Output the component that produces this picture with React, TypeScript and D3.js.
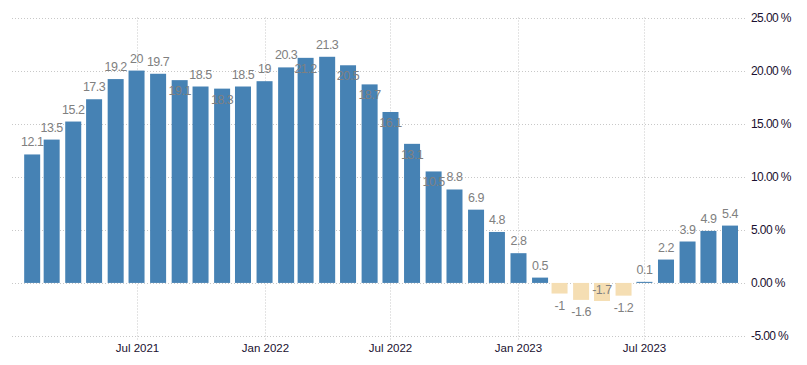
import { useEffect, useRef } from "react";
import * as d3 from "d3";

// Monthly YoY values, Feb 2021 .. Nov 2023
const firstMonth = { year: 2021, month: 1 };
const values = [
  12.1, 13.5, 15.2, 17.3, 19.2, 20, 19.7, 19.1, 18.5, 18.3, 18.5, 19,
  20.3, 21.2, 21.3, 20.5, 18.7, 16.1, 13.1, 10.5, 8.8, 6.9, 4.8, 2.8,
  0.5, -1, -1.6, -1.7, -1.2, 0.1, 2.2, 3.9, 4.9, 5.4,
];
const xTicks = ["2021-07-01", "2022-01-01", "2022-07-01", "2023-01-01", "2023-07-01"];
const xTickLabels = ["Jul 2021", "Jan 2022", "Jul 2022", "Jan 2023", "Jul 2023"];
const yTicks = [-5, 0, 5, 10, 15, 20, 25];

const WIDTH = 807;
const HEIGHT = 365;
const PLOT = { left: 12, right: 746, top: 17.5, bottom: 336 };
const BAR_W = 16;
const POS_COLOR = "#4682b4";
const NEG_COLOR = "#f5deb3";
const FONT = "'Liberation Sans', Arial, sans-serif";

// rough label width for overlap checks (narrow ui font)
function labelWidth(s: string): number {
  let w = 0;
  for (const ch of s) w += ch === "." ? 2.9 : ch === "-" ? 3.5 : 5.9;
  return w + 3;
}

export default function App() {
  const svgRef = useRef<SVGSVGElement>(null);

  useEffect(() => {
    const svg = d3.select(svgRef.current);
    svg.selectAll("*").remove();

    const dates = values.map((_, i) =>
      d3.utcMonth.offset(new Date(Date.UTC(firstMonth.year, firstMonth.month, 1)), i)
    );

    const x = d3.scaleUtc()
      .domain([new Date(Date.UTC(2021, 0, 3)), new Date(Date.UTC(2023, 10, 24))])
      .range([PLOT.left, PLOT.right]);

    const y = d3.scaleLinear()
      .domain([-5, 25])
      .range([PLOT.bottom, PLOT.top]);

    svg.append("rect")
      .attr("width", WIDTH)
      .attr("height", HEIGHT)
      .attr("fill", "#ffffff");

    // horizontal grid
    yTicks.forEach((t) => {
      svg.append("line")
        .attr("x1", PLOT.left)
        .attr("x2", PLOT.right)
        .attr("y1", Math.round(y(t)) + 0.5)
        .attr("y2", Math.round(y(t)) + 0.5)
        .attr("stroke", "#c8c8c8")
        .attr("stroke-dasharray", "1,2");

      svg.append("text")
        .attr("x", PLOT.right + 5)
        .attr("y", y(t))
        .attr("dominant-baseline", "central")
        .attr("font-family", FONT)
        .attr("font-size", "12px")
        .attr("letter-spacing", "-0.6px")
        .attr("fill", "#1a1030")
        .text(`${t.toFixed(2)} %`);
    });

    // vertical grid + x labels
    xTicks.forEach((d, i) => {
      const xp = Math.round(x(new Date(d + "T00:00:00Z"))) + 0.5;
      svg.append("line")
        .attr("x1", xp)
        .attr("x2", xp)
        .attr("y1", PLOT.top)
        .attr("y2", PLOT.bottom + 5)
        .attr("stroke", "#c8c8c8")
        .attr("stroke-dasharray", "1,2");

      svg.append("text")
        .attr("x", xp)
        .attr("y", 348)
        .attr("text-anchor", "middle")
        .attr("dominant-baseline", "central")
        .attr("font-family", FONT)
        .attr("font-size", "11.5px")
        .attr("fill", "#1a1030")
        .text(xTickLabels[i]);
    });

    // bars
    values.forEach((v, i) => {
      const cx = x(dates[i]);
      svg.append("rect")
        .attr("x", cx - BAR_W / 2)
        .attr("y", Math.min(y(v), y(0)))
        .attr("width", BAR_W)
        .attr("height", Math.abs(y(v) - y(0)))
        .attr("fill", v >= 0 ? POS_COLOR : NEG_COLOR);
    });

    // value labels: outside the bar end, moved inside when they hit a previous label
    const placed: { cx: number; cy: number; w: number }[] = [];
    const LABEL_H = 11;
    values.forEach((v, i) => {
      const cx = x(dates[i]);
      const end = y(v);
      const dir = v >= 0 ? -1 : 1;
      const w = labelWidth(String(v));
      const hits = (cy: number) =>
        placed.some((p) => Math.abs(p.cx - cx) < (p.w + w) / 2 && Math.abs(p.cy - cy) < LABEL_H);
      let cy = end + dir * 12;
      if (hits(cy)) cy = end - dir * 11;
      placed.push({ cx, cy, w });

      svg.append("text")
        .attr("x", cx)
        .attr("y", cy)
        .attr("text-anchor", "middle")
        .attr("dominant-baseline", "central")
        .attr("font-family", FONT)
        .attr("font-size", "12.5px")
        .attr("letter-spacing", "-0.5px")
        .attr("fill", "#808080")
        .text(String(v));
    });
  }, []);

  return (
    <svg
      ref={svgRef}
      width={WIDTH}
      height={HEIGHT}
      style={{ position: "absolute", left: 0, top: 0, display: "block" }}
    />
  );
}
